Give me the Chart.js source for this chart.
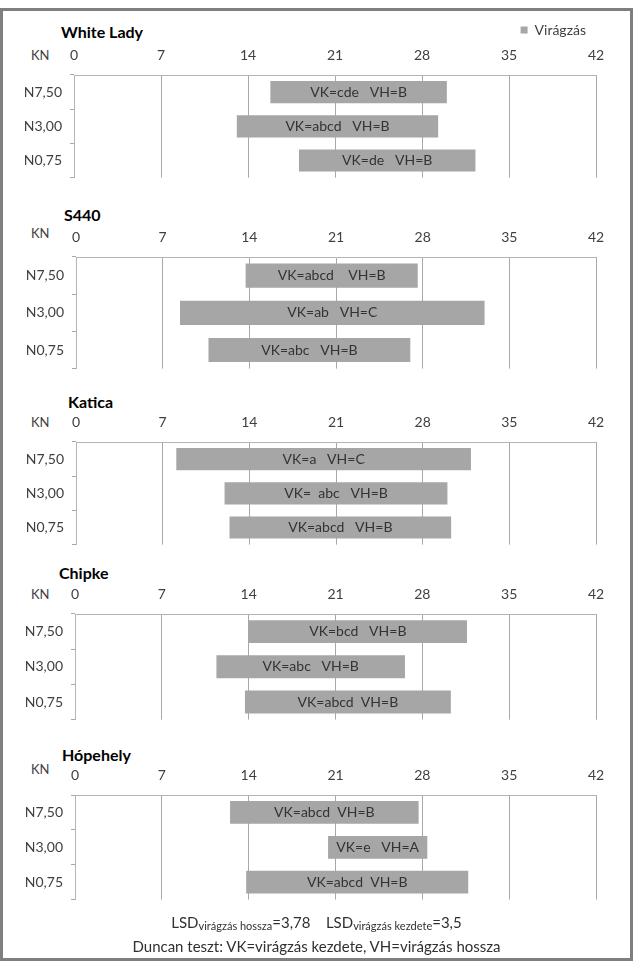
<!DOCTYPE html>
<html><head><meta charset="utf-8">
<script src="https://cdn.jsdelivr.net/npm/chart.js@4"></script>
<style>
body{margin:0;background:#fff;font-family:Lato,sans-serif;width:633px;height:961px;overflow:hidden;position:relative;}
#frame{position:absolute;left:0;top:8px;width:633px;height:953px;box-sizing:border-box;border:3px solid #7f7f7f;}
.t{position:absolute;font-weight:bold;font-size:16px;color:#000;line-height:20px;white-space:nowrap;}
.kn{position:absolute;font-size:13px;color:#404040;line-height:16px;}
.p{position:absolute;left:0;}
.note{position:absolute;left:0;width:633px;text-align:center;color:#303030;white-space:nowrap;}
.note sub{font-size:11px;vertical-align:-2px;}
</style></head><body>
<div id="frame"></div>
<script>
// ---- data ----
const categories = ['N7,50', 'N3,00', 'N0,75'];
const xTickLabels = [0, 7, 14, 21, 28, 35, 42];
const seriesName = 'Virágzás';
const varieties = ['White Lady', 'S440', 'Katica', 'Chipke', 'Hópehely'];

const whiteLadyStart = [15.8, 13.1, 18.1];
const whiteLadyEnd   = [30.0, 29.3, 32.3];
const whiteLadyText  = ['VK=cde   VH=B', 'VK=abcd   VH=B', 'VK=de   VH=B'];

const s440Start = [13.7, 8.4, 10.7];
const s440End   = [27.6, 33.0, 27.0];
const s440Text  = ['VK=abcd    VH=B', 'VK=ab   VH=C', 'VK=abc   VH=B'];

const katicaStart = [8.1, 12.0, 12.4];
const katicaEnd   = [31.9, 30.0, 30.3];
const katicaText  = ['VK=a   VH=C', 'VK=  abc   VH=B', 'VK=abcd   VH=B'];

const chipkeStart = [14.0, 11.4, 13.7];
const chipkeEnd   = [31.6, 26.6, 30.3];
const chipkeText  = ['VK=bcd   VH=B', 'VK=abc   VH=B', 'VK=abcd  VH=B'];

const hopehelyStart = [12.5, 20.4, 13.8];
const hopehelyEnd   = [27.7, 28.4, 31.7];
const hopehelyText  = ['VK=abcd  VH=B', 'VK=e   VH=A', 'VK=abcd  VH=B'];

// ---- layout (styles only) ----
const layoutInfo = [
  {start: whiteLadyStart, end: whiteLadyEnd, text: whiteLadyText, top: 75, bottom: 190, left: 74, titleX: 61, titleY: 32, knY: 55, legend: true},
  {start: s440Start, end: s440End, text: s440Text, top: 257, bottom: 381, left: 76, titleX: 64, titleY: 215, knY: 233},
  {start: katicaStart, end: katicaEnd, text: katicaText, top: 442, bottom: 557, left: 76, titleX: 68, titleY: 402, knY: 422},
  {start: chipkeStart, end: chipkeEnd, text: chipkeText, top: 614, bottom: 732, left: 75, titleX: 59, titleY: 573, knY: 594},
  {start: hopehelyStart, end: hopehelyEnd, text: hopehelyText, top: 795, bottom: 912, left: 75, titleX: 62, titleY: 755, knY: 769}
];
const RIGHT = 596;
const FONT = {family: 'Lato', size: 14};
const TXT = '#404040';

layoutInfo.forEach((p, i) => {
  const t = document.createElement('div');
  t.className = 't'; t.textContent = varieties[i];
  t.style.left = p.titleX + 'px'; t.style.top = (p.titleY - 10) + 'px';
  document.body.appendChild(t);
  const kn = document.createElement('div');
  kn.className = 'kn'; kn.textContent = 'KN';
  kn.style.left = '31px'; kn.style.top = (p.knY - 8) + 'px';
  document.body.appendChild(kn);

  const head = p.legend ? 28 : 40;
  const legendGuess = p.legend ? 40 : 0;
  const build = (legendH) => {
    const H = legendH + head + (p.bottom - p.top) + 4;
    const div = document.createElement('div');
    div.className = 'p';
    div.style.top = (p.top - head - legendH) + 'px';
    const c = document.createElement('canvas');
    c.width = 633; c.height = H; c.style.width = '633px'; c.style.height = H + 'px';
    div.appendChild(c); document.body.appendChild(div);
    const barText = {
      id: 'barText' + i,
      afterDatasetsDraw(chart) {
        const ctx = chart.ctx;
        const meta = chart.getDatasetMeta(0);
        ctx.save();
        ctx.font = '14px Lato';
        ctx.fillStyle = '#333333';
        ctx.textAlign = 'center';
        ctx.textBaseline = 'middle';
        meta.data.forEach((el, k) => {
          const pr = el.getProps(['x', 'base', 'y'], true);
          ctx.fillText(p.text[k], (pr.x + pr.base) / 2, pr.y);
        });
        ctx.restore();
      }
    };
    const chart = new Chart(c, {
      type: 'bar',
      data: {
        labels: categories,
        datasets: [{
          label: seriesName,
          data: categories.map((_, k) => [p.start[k], p.end[k]]),
          backgroundColor: '#a6a6a6',
          borderWidth: 0,
          barPercentage: 0.65,
          categoryPercentage: 1
        }]
      },
      options: {
        indexAxis: 'y',
        responsive: false,
        animation: false,
        devicePixelRatio: 1,
        layout: {padding: {left: 0, right: 633 - RIGHT, top: 0, bottom: 4}},
        plugins: {
          legend: {
            display: !!p.legend, position: 'top', align: 'end',
            labels: {boxWidth: 7, boxHeight: 7, font: FONT, color: TXT, padding: 10}
          },
          tooltip: {enabled: false}
        },
        scales: {
          x: {
            type: 'linear', position: 'top',
            min: xTickLabels[0], max: xTickLabels[xTickLabels.length - 1],
            afterBuildTicks(s) { s.ticks = xTickLabels.map(v => ({value: v})); },
            ticks: {font: FONT, color: TXT, padding: 11},
            grid: {color: '#a8a8a8', drawTicks: false},
            border: {color: '#b4b4b4'},
            afterFit(s) { s.height = head; }
          },
          y: {
            type: 'category',
            grid: {offset: true, drawOnChartArea: false, tickLength: 4, color: '#a8a8a8'},
            border: {color: '#b4b4b4'},
            ticks: {padding: 8, font: FONT, color: TXT},
            afterFit(s) { s.width = p.left; }
          }
        }
      },
      plugins: [barText]
    });
    return {chart, div};
  };
  let r = build(legendGuess);
  if (p.legend) {
    const actual = r.chart.chartArea.top - head;
    if (Math.abs(actual - legendGuess) > 0.5) {
      r.chart.destroy(); r.div.remove();
      r = build(actual);
    }
  }
});
</script>
<div class="note" style="top:912px;font-size:15px;line-height:20px;">LSD<sub>virágzás hossza</sub>=3,78&nbsp;&nbsp;&nbsp;&nbsp;LSD<sub>virágzás kezdete</sub>=3,5</div>
<div class="note" style="top:936px;font-size:15px;line-height:20px;">Duncan teszt: VK=virágzás kezdete, VH=virágzás hossza</div>
</body></html>
